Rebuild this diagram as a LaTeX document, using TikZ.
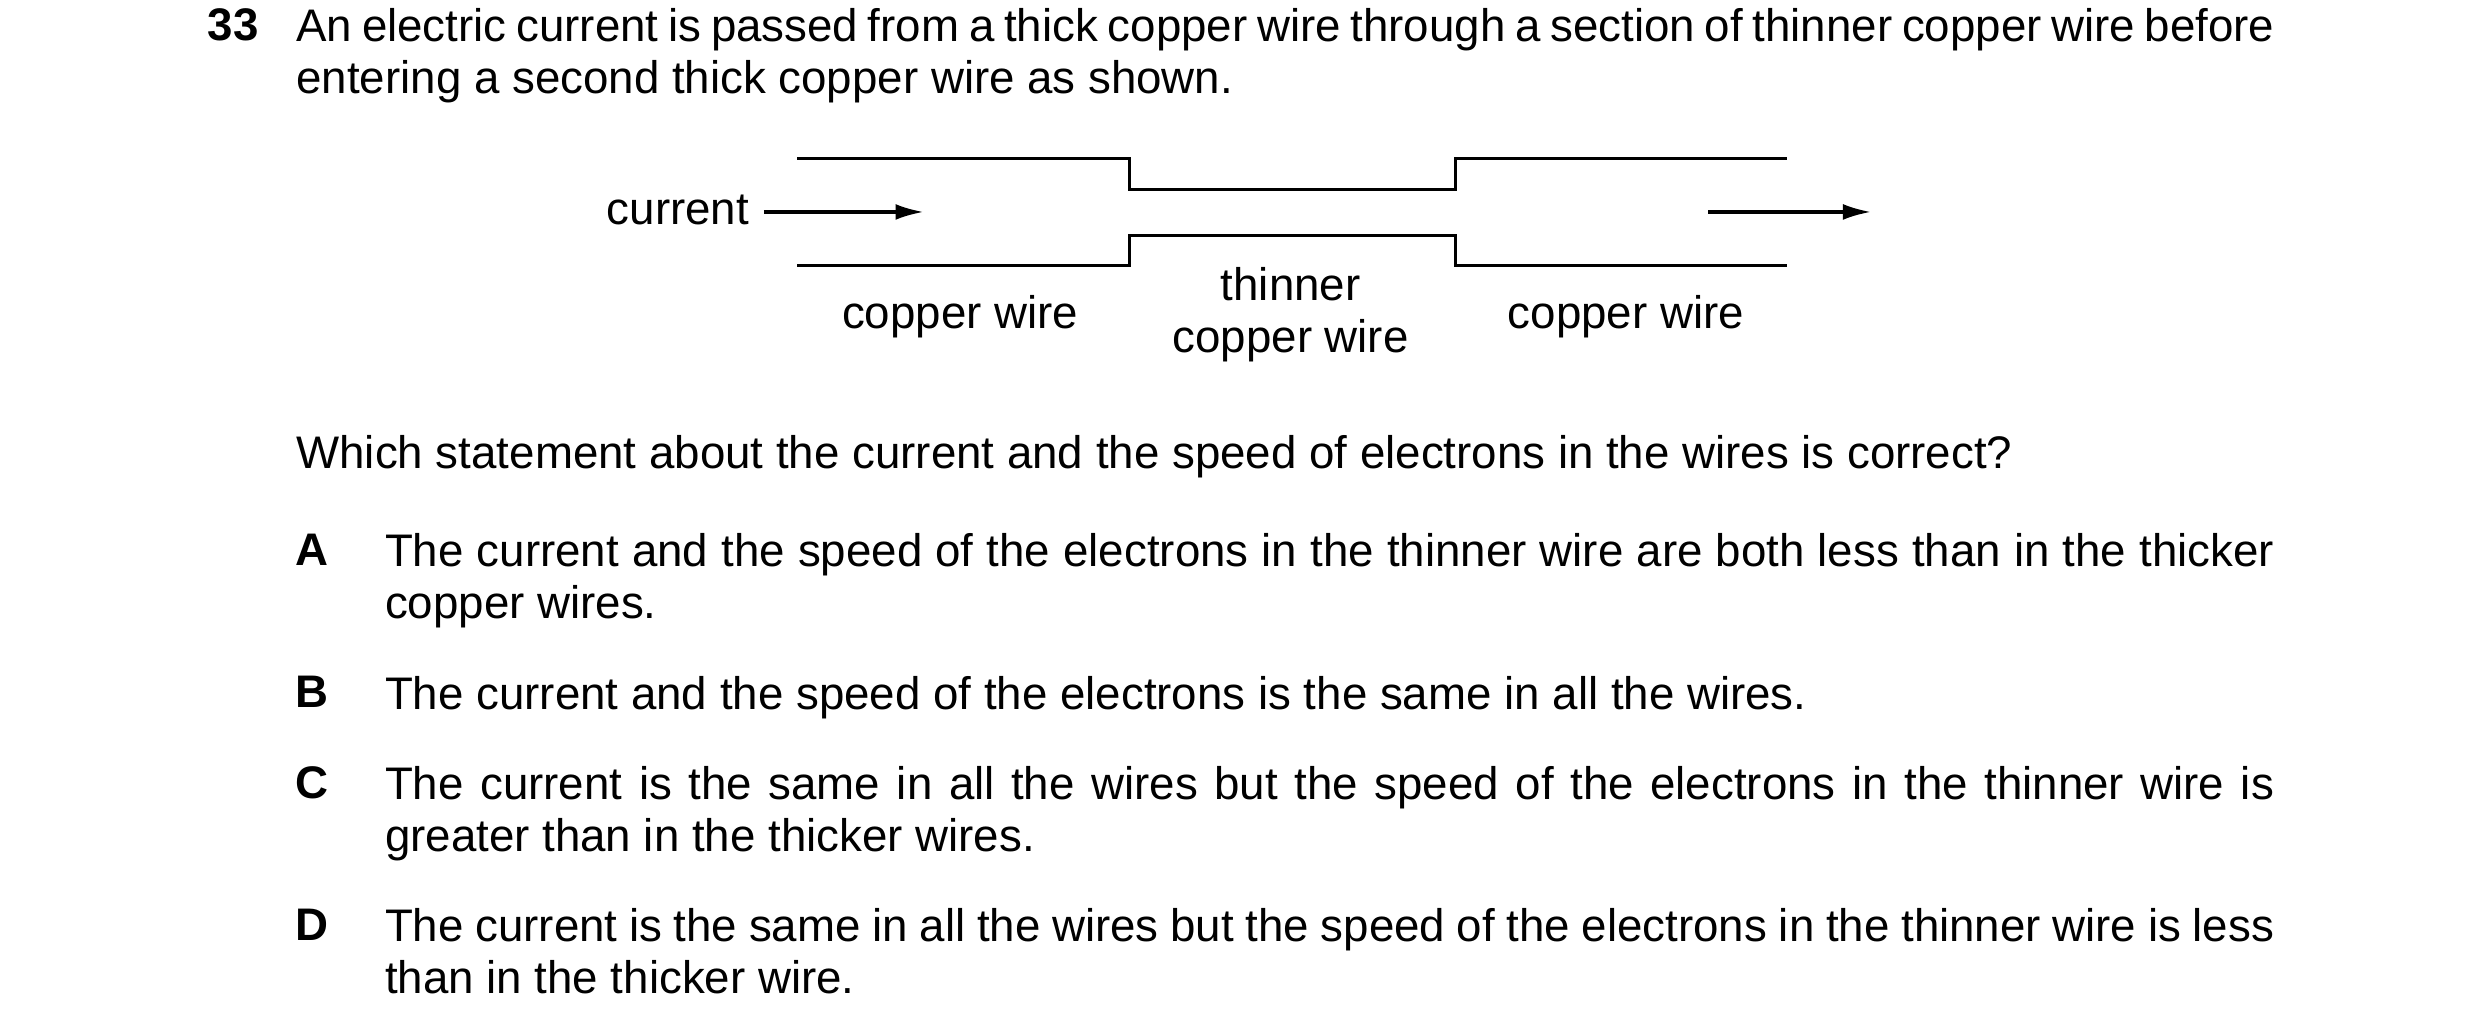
\documentclass[tikz,border=0pt]{standalone}
\usepackage{fontspec}
\setmainfont{Liberation Sans}
\usetikzlibrary{arrows.meta}
\tikzstyle{para} = [anchor=north west, inner sep=0pt, align=justify, font=\fontsize{13}{14.8}\selectfont]
\tikzstyle{letter} = [anchor=north, inner sep=0pt, font=\fontsize{13}{14.8}\selectfont\bfseries]
\tikzstyle{label} = [inner sep=0pt, align=center, font=\fontsize{13}{14.8}\selectfont]
\tikzstyle{wire} = [line width=0.9pt]
\tikzstyle{flow} = [line width=0.9pt, -{Latex[length=8pt,width=4.5pt]}]
\begin{document}
\begin{tikzpicture}[x=0.015816cm, y=-0.015816cm]
  \useasboundingbox (0,0) rectangle (1568,655);
  % question
  \node (num) [letter, anchor=north west] at (131,5) {33};
  \node (stem) [para, text width=19.79cm] at (187,5) {An electric current is passed from a thick copper wire through a section of thinner copper wire before entering a second thick copper wire as shown.};
  % wire outline
  \draw [wire] (504,100) -- (714,100) -- (714,120) -- (920,120) -- (920,100) -- (1130,100);
  \draw [wire] (504,168) -- (714,168) -- (714,149) -- (920,149) -- (920,168) -- (1130,168);
  \node (cur) [label, anchor=east] at (474,133) {current};
  \coordinate (inend) at (584,134);
  \coordinate (outstart) at (1080,134);
  \coordinate (outend) at (1183,134);
  \draw [flow] (cur.east) ++(9,1) -- (inend);
  \draw [flow] (outstart) -- (outend);
  \node (thick1) [label] at (607,200) {copper wire};
  \node (thin) [label] at (816,199) {thinner\\copper wire};
  \node (thick2) [label] at (1028,200) {copper wire};
  % options
  \node (which) [para, anchor=north west] at (187,275) {Which statement about the current and the speed of electrons in the wires is correct?};
  \node (la) [letter] at (197,337) {A};
  \node (ta) [para, text width=18.9cm] at (243,337) {The current and the speed of the electrons in the thinner wire are both less than in the thicker copper wires.};
  \node (lb) [letter] at (197,427) {B};
  \node (tb) [para, text width=18.9cm] at (243,427) {The current and the speed of the electrons is the same in all the wires.};
  \node (lc) [letter] at (197,484) {C};
  \node (tc) [para, text width=18.9cm] at (243,484) {The current is the same in all the wires but the speed of the electrons in the thinner wire is greater than in the thicker wires.};
  \node (ld) [letter] at (197,574) {D};
  \node (td) [para, text width=18.9cm] at (243,574) {The current is the same in all the wires but the speed of the electrons in the thinner wire is less than in the thicker wire.};
\end{tikzpicture}
\end{document}
